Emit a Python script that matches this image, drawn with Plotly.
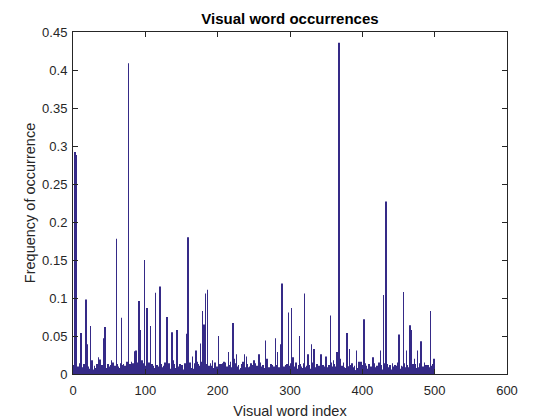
import plotly.graph_objects as go

# Visual word index 1..500
word_index = list(range(1, 501))

# Background (small) frequencies, ten per row
base_freq = [
    0.012, 0.008, 0.000, 0.000, 0.016, 0.006, 0.010, 0.003, 0.014, 0.007,
    0.004, 0.011, 0.002, 0.009, 0.013, 0.005, 0.001, 0.008, 0.015, 0.006,
    0.010, 0.003, 0.007, 0.012, 0.002, 0.009, 0.014, 0.004, 0.006, 0.011,
    0.001, 0.008, 0.013, 0.005, 0.010, 0.003, 0.016, 0.007, 0.002, 0.012,
    0.009, 0.004, 0.011, 0.006, 0.014, 0.001, 0.008, 0.013, 0.003, 0.010,
    0.005, 0.012, 0.002, 0.015, 0.007, 0.009, 0.004, 0.011, 0.006, 0.001,
    0.013, 0.003, 0.010, 0.008, 0.002, 0.014, 0.005, 0.009, 0.012, 0.004,
    0.007, 0.011, 0.001, 0.006, 0.016, 0.003, 0.010, 0.002, 0.013, 0.008,
    0.004, 0.009, 0.014, 0.005, 0.011, 0.007, 0.001, 0.012, 0.003, 0.015,
    0.006, 0.010, 0.002, 0.013, 0.008, 0.004, 0.009, 0.014, 0.001, 0.011,
    0.003, 0.012, 0.007, 0.005, 0.015, 0.002, 0.010, 0.006, 0.013, 0.009,
    0.011, 0.001, 0.008, 0.014, 0.004, 0.012, 0.003, 0.007, 0.010, 0.005,
    0.002, 0.013, 0.009, 0.006, 0.011, 0.001, 0.015, 0.004, 0.008, 0.012,
    0.010, 0.005, 0.014, 0.003, 0.007, 0.012, 0.002, 0.009, 0.006, 0.013,
    0.008, 0.002, 0.011, 0.016, 0.005, 0.010, 0.004, 0.013, 0.001, 0.007,
    0.012, 0.006, 0.003, 0.009, 0.014, 0.002, 0.011, 0.005, 0.010, 0.004,
    0.001, 0.015, 0.008, 0.004, 0.012, 0.007, 0.003, 0.014, 0.006, 0.010,
    0.009, 0.003, 0.013, 0.011, 0.002, 0.008, 0.016, 0.005, 0.012, 0.001,
    0.006, 0.010, 0.004, 0.007, 0.013, 0.003, 0.009, 0.011, 0.002, 0.014,
    0.011, 0.005, 0.012, 0.002, 0.008, 0.015, 0.006, 0.001, 0.010, 0.007,
    0.004, 0.013, 0.001, 0.009, 0.011, 0.005, 0.014, 0.003, 0.007, 0.012,
    0.015, 0.002, 0.010, 0.006, 0.004, 0.012, 0.008, 0.013, 0.001, 0.009,
    0.007, 0.011, 0.003, 0.014, 0.009, 0.002, 0.005, 0.010, 0.012, 0.006,
    0.002, 0.008, 0.013, 0.004, 0.016, 0.007, 0.011, 0.001, 0.009, 0.005,
    0.013, 0.006, 0.009, 0.001, 0.010, 0.014, 0.003, 0.012, 0.004, 0.008,
    0.005, 0.014, 0.002, 0.011, 0.007, 0.003, 0.013, 0.009, 0.015, 0.002,
    0.010, 0.004, 0.012, 0.008, 0.001, 0.011, 0.006, 0.014, 0.003, 0.009,
    0.003, 0.009, 0.006, 0.013, 0.012, 0.005, 0.002, 0.010, 0.007, 0.016,
    0.012, 0.001, 0.015, 0.005, 0.009, 0.008, 0.014, 0.004, 0.011, 0.002,
    0.006, 0.010, 0.003, 0.012, 0.004, 0.013, 0.007, 0.001, 0.009, 0.011,
    0.014, 0.005, 0.008, 0.002, 0.011, 0.006, 0.010, 0.015, 0.003, 0.007,
    0.001, 0.012, 0.009, 0.013, 0.004, 0.010, 0.002, 0.008, 0.014, 0.005,
    0.009, 0.003, 0.011, 0.006, 0.016, 0.001, 0.012, 0.005, 0.007, 0.013,
    0.004, 0.015, 0.007, 0.010, 0.002, 0.009, 0.013, 0.003, 0.011, 0.006,
    0.011, 0.002, 0.014, 0.004, 0.008, 0.012, 0.005, 0.010, 0.001, 0.013,
    0.007, 0.009, 0.001, 0.012, 0.006, 0.003, 0.015, 0.008, 0.010, 0.004,
    0.013, 0.006, 0.010, 0.003, 0.014, 0.011, 0.002, 0.007, 0.012, 0.009,
    0.002, 0.011, 0.005, 0.015, 0.009, 0.004, 0.008, 0.013, 0.006, 0.010,
    0.010, 0.004, 0.012, 0.007, 0.001, 0.014, 0.009, 0.003, 0.011, 0.005,
    0.005, 0.013, 0.008, 0.002, 0.010, 0.006, 0.012, 0.016, 0.004, 0.008,
    0.012, 0.003, 0.009, 0.014, 0.005, 0.011, 0.001, 0.007, 0.013, 0.002,
    0.008, 0.010, 0.004, 0.006, 0.013, 0.002, 0.014, 0.009, 0.003, 0.011,
    0.003, 0.007, 0.015, 0.010, 0.004, 0.012, 0.006, 0.001, 0.009, 0.014,
    0.011, 0.005, 0.002, 0.013, 0.008, 0.009, 0.003, 0.012, 0.007, 0.004,
    0.006, 0.014, 0.010, 0.001, 0.012, 0.004, 0.011, 0.005, 0.015, 0.008,
    0.013, 0.002, 0.007, 0.011, 0.003, 0.010, 0.006, 0.014, 0.002, 0.009,
    0.004, 0.012, 0.009, 0.005, 0.016, 0.001, 0.008, 0.011, 0.006, 0.013,
    0.010, 0.003, 0.013, 0.008, 0.002, 0.012, 0.005, 0.009, 0.014, 0.004,
    0.007, 0.011, 0.001, 0.010, 0.006, 0.015, 0.003, 0.012, 0.008, 0.005,
    0.012, 0.004, 0.009, 0.002, 0.011, 0.007, 0.013, 0.003, 0.010, 0.006,
]

# Taller bars (index, frequency)
peak_index = [3, 4, 11, 18, 20, 24, 26, 35, 37, 43, 44, 53, 56, 60, 67, 70,
              77, 81, 85, 87, 91, 93, 95, 99, 102, 107, 114, 120, 130, 137,
              139, 144, 157, 159, 165, 170, 172, 176, 179, 181, 183, 186,
              193, 201, 205, 209, 215, 218, 221, 223, 226, 237, 240, 250,
              257, 266, 268, 280, 283, 287, 289, 298, 302, 304, 313, 320,
              325, 330, 333, 343, 350, 356, 360, 365, 367, 368, 370, 379,
              382, 392, 395, 402, 415, 425, 429, 433, 451, 457, 461, 466,
              468, 472, 476, 481, 494, 499]
peak_value = [0.292, 0.288, 0.054, 0.098, 0.039, 0.063, 0.018, 0.022, 0.019,
              0.047, 0.062, 0.018, 0.015, 0.178, 0.074, 0.013, 0.409, 0.016,
              0.030, 0.031, 0.096, 0.058, 0.018, 0.150, 0.087, 0.063, 0.107,
              0.115, 0.075, 0.055, 0.018, 0.058, 0.053, 0.180, 0.023, 0.031,
              0.016, 0.040, 0.083, 0.065, 0.106, 0.111, 0.018, 0.050, 0.013,
              0.016, 0.029, 0.016, 0.067, 0.020, 0.026, 0.026, 0.023, 0.018,
              0.026, 0.044, 0.020, 0.047, 0.029, 0.039, 0.119, 0.081, 0.087,
              0.022, 0.050, 0.106, 0.026, 0.039, 0.033, 0.026, 0.023, 0.077,
              0.018, 0.029, 0.345, 0.436, 0.020, 0.054, 0.033, 0.031, 0.016,
              0.072, 0.022, 0.031, 0.104, 0.227, 0.052, 0.108, 0.031, 0.064,
              0.058, 0.020, 0.031, 0.043, 0.083, 0.020]

frequency = list(base_freq)
for i, v in zip(peak_index, peak_value):
    frequency[i - 1] = v

x_ticks = [0, 100, 200, 300, 400, 500, 600]
y_ticks = [0, 0.05, 0.1, 0.15, 0.2, 0.25, 0.3, 0.35, 0.4, 0.45]
y_labels = ["0", "0.05", "0.1", "0.15", "0.2", "0.25", "0.3", "0.35", "0.4", "0.45"]

axis_color = "#262626"
font_family = "Liberation Sans, Arial, Helvetica, sans-serif"

fig = go.Figure(
    go.Bar(
        x=word_index,
        y=frequency,
        width=0.8,
        marker=dict(color="#352A87", line=dict(width=0)),
    )
)

fig.update_layout(
    width=560,
    height=420,
    margin=dict(l=73, r=53, t=32, b=46, autoexpand=False),
    paper_bgcolor="white",
    plot_bgcolor="white",
    showlegend=False,
    font=dict(family=font_family, size=13, color=axis_color),
    title=dict(
        text="<b>Visual word occurrences</b>",
        x=0.5, xanchor="center",
        xref="paper",
        y=1 - 19 / 420, yanchor="middle",
        font=dict(size=15, color="black"),
    ),
    bargap=0.2,
)

fig.update_xaxes(
    range=[0, 600],
    tickmode="array", tickvals=x_ticks,
    ticks="inside", ticklen=5, tickcolor=axis_color,
    showline=True, linecolor=axis_color, linewidth=1, mirror="ticks",
    showgrid=False, zeroline=False, automargin=False,
    ticklabelstandoff=4,
    title=dict(text="Visual word index", font=dict(size=14.5), standoff=9),
    tickfont=dict(size=13),
)
fig.update_yaxes(
    range=[0, 0.45],
    tickmode="array", tickvals=y_ticks, ticktext=y_labels,
    ticks="inside", ticklen=5, tickcolor=axis_color,
    showline=True, linecolor=axis_color, linewidth=1, mirror="ticks",
    showgrid=False, zeroline=False, automargin=False,
    ticklabelstandoff=2,
    title=dict(text="Frequency of occurrence", font=dict(size=14.5), standoff=3),
    tickfont=dict(size=13),
)

fig.write_html(
    "out.html",
    config={"displayModeBar": False},
    post_script="document.body.style.margin='0';",
)
